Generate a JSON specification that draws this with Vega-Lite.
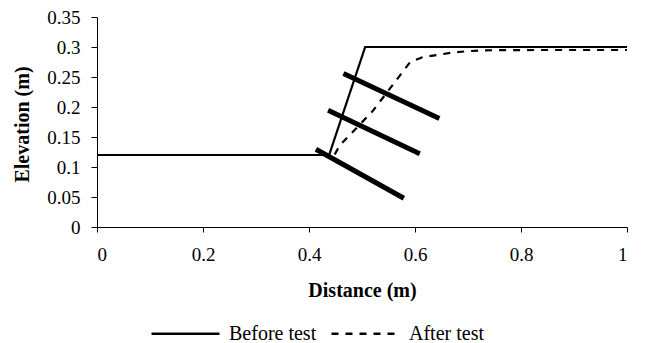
{
  "$schema": "https://vega.github.io/schema/vega-lite/v6.json",
  "width": 530,
  "height": 210,
  "autosize": "none",
  "padding": {"left": 97, "top": 17, "right": 27, "bottom": 116},
  "background": "white",
  "config": {
    "view": {"stroke": null},
    "font": "Liberation Serif",
    "axis": {"grid": false, "domainColor": "black", "tickColor": "black", "labelColor": "black", "titleColor": "black", "labelFont": "Liberation Serif", "titleFont": "Liberation Serif", "labelFontSize": 19, "titleFontSize": 20, "titleFontWeight": "bold", "labelOverlap": false},
    "legend": {"labelFont": "Liberation Serif", "labelFontSize": 20, "labelColor": "black"}
  },
  "datasets": {
    "profiles": [
      {"series": "Before test", "order": 1, "distance": 0, "elevation": 0.12},
      {"series": "Before test", "order": 2, "distance": 0.438, "elevation": 0.12},
      {"series": "Before test", "order": 3, "distance": 0.506, "elevation": 0.3},
      {"series": "Before test", "order": 4, "distance": 1.0, "elevation": 0.3},
      {"series": "After test", "order": 1, "distance": 0, "elevation": 0.12},
      {"series": "After test", "order": 2, "distance": 0.448, "elevation": 0.12},
      {"series": "After test", "order": 3, "distance": 0.458, "elevation": 0.136},
      {"series": "After test", "order": 4, "distance": 0.519, "elevation": 0.192},
      {"series": "After test", "order": 5, "distance": 0.572, "elevation": 0.253},
      {"series": "After test", "order": 6, "distance": 0.591, "elevation": 0.275},
      {"series": "After test", "order": 7, "distance": 0.614, "elevation": 0.283},
      {"series": "After test", "order": 8, "distance": 0.644, "elevation": 0.287},
      {"series": "After test", "order": 9, "distance": 0.672, "elevation": 0.291},
      {"series": "After test", "order": 10, "distance": 0.7, "elevation": 0.293},
      {"series": "After test", "order": 11, "distance": 0.729, "elevation": 0.2945},
      {"series": "After test", "order": 12, "distance": 0.833, "elevation": 0.295},
      {"series": "After test", "order": 13, "distance": 1.0, "elevation": 0.295}
    ],
    "nails": [
      {"x1": 0.465, "y1": 0.256, "x2": 0.646, "y2": 0.181},
      {"x1": 0.436, "y1": 0.1945, "x2": 0.609, "y2": 0.122},
      {"x1": 0.413, "y1": 0.1295, "x2": 0.579, "y2": 0.048}
    ]
  },
  "layer": [
    {
      "data": {"name": "profiles"},
      "mark": {"type": "line", "color": "black", "strokeWidth": 2.2},
      "encoding": {
        "x": {"field": "distance", "type": "quantitative", "scale": {"domain": [0, 1]},
          "axis": {"values": [0, 0.2, 0.4, 0.6, 0.8, 1], "format": "~g", "labelOverlap": false, "title": "Distance (m)", "tickSize": 5, "labelPadding": 13, "titleY": 63, "titleBaseline": "middle"}},
        "y": {"field": "elevation", "type": "quantitative", "scale": {"domain": [0, 0.35]},
          "axis": {"values": [0, 0.05, 0.1, 0.15, 0.2, 0.25, 0.3, 0.35], "format": "~g", "labelOverlap": false, "labelBound": false, "labelFlush": false, "title": "Elevation (m)", "tickSize": 6, "labelPadding": 11, "titleX": -75, "titleY": 107, "titleBaseline": "middle", "titleAngle": -90}},
        "order": {"field": "order", "type": "quantitative"},
        "strokeDash": {"field": "series", "type": "nominal",
          "scale": {"domain": ["Before test", "After test"], "range": [[1, 0], [7, 7]]},
          "legend": {"title": null, "orient": "none", "legendX": 53, "legendY": 281, "direction": "horizontal", "symbolType": "stroke", "symbolSize": 4624, "symbolStrokeWidth": 2.5, "symbolStrokeColor": "black", "labelOffset": 8, "columnPadding": 9}}
      }
    },
    {
      "data": {"name": "nails"},
      "mark": {"type": "rule", "strokeWidth": 5, "color": "black", "strokeCap": "butt"},
      "encoding": {
        "x": {"field": "x1", "type": "quantitative", "scale": {"domain": [0, 1]},
          "axis": {"values": [0, 0.2, 0.4, 0.6, 0.8, 1], "format": "~g", "labelOverlap": false, "title": "Distance (m)", "tickSize": 5, "labelPadding": 13, "titleY": 63, "titleBaseline": "middle"}},
        "y": {"field": "y1", "type": "quantitative", "scale": {"domain": [0, 0.35]},
          "axis": {"values": [0, 0.05, 0.1, 0.15, 0.2, 0.25, 0.3, 0.35], "format": "~g", "labelOverlap": false, "labelBound": false, "labelFlush": false, "title": "Elevation (m)", "tickSize": 6, "labelPadding": 11, "titleX": -75, "titleY": 107, "titleBaseline": "middle", "titleAngle": -90}},
        "x2": {"field": "x2"},
        "y2": {"field": "y2"}
      }
    }
  ]
}
